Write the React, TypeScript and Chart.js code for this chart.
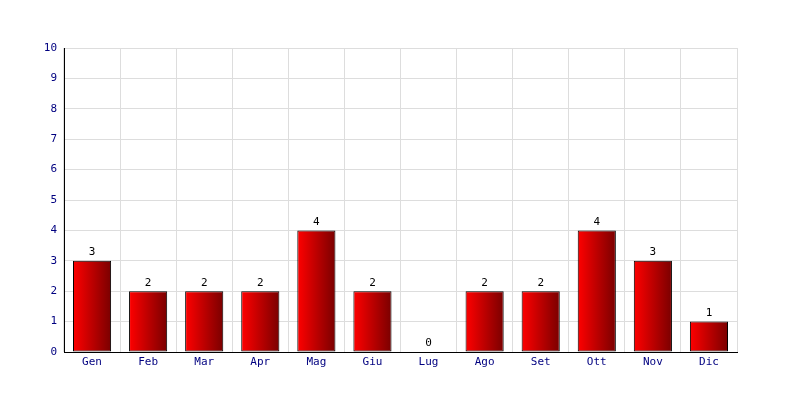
import React, { useEffect, useRef } from "react";
import { Chart, registerables } from "chart.js";

Chart.register(...registerables);

const categories = ["Gen", "Feb", "Mar", "Apr", "Mag", "Giu", "Lug", "Ago", "Set", "Ott", "Nov", "Dic"];
const values = [3, 2, 2, 2, 4, 2, 0, 2, 2, 4, 3, 1];
const yTicks = [0, 1, 2, 3, 4, 5, 6, 7, 8, 9, 10];

const FONT = "'DejaVu Sans Mono', monospace";
const BAR_PCT = 0.68;

const labelPlugin = {
  id: "valueLabels",
  afterDatasetsDraw(chart: any) {
    const ctx = chart.ctx;
    ctx.save();
    ctx.font = `11px ${FONT}`;
    ctx.fillStyle = "#000000";
    ctx.textAlign = "center";
    ctx.textBaseline = "bottom";
    const meta = chart.getDatasetMeta(0);
    meta.data.forEach((bar: any, i: number) => {
      ctx.fillText(String(values[i]), bar.x, bar.y - 3);
    });
    ctx.restore();
  },
};

function barGradient(c: any) {
  const chart = c.chart;
  const area = chart.chartArea;
  const xs = chart.scales && chart.scales.x;
  if (!area || !xs) return "#ff0000";
  const cx = xs.getPixelForValue(c.dataIndex);
  const w = ((area.right - area.left) / categories.length) * BAR_PCT;
  const g = chart.ctx.createLinearGradient(cx - w / 2, 0, cx + w / 2, 0);
  g.addColorStop(0, "#ff0000");
  g.addColorStop(1, "#7a0000");
  return g;
}

export default function App() {
  const ref = useRef<HTMLCanvasElement>(null);
  useEffect(() => {
    if (!ref.current) return;
    const chart = new Chart(ref.current, {
      type: "bar",
      data: {
        labels: categories,
        datasets: [
          {
            data: values,
            backgroundColor: barGradient,
            borderColor: "#000000",
            borderWidth: 1,
            borderSkipped: false,
            categoryPercentage: 1,
            barPercentage: BAR_PCT,
          },
        ],
      },
      options: {
        animation: false,
        responsive: false,
        devicePixelRatio: 1,
        layout: { padding: { left: 0, top: 48, right: 63, bottom: 0 } },
        plugins: { legend: { display: false }, tooltip: { enabled: false } },
        scales: {
          x: {
            grid: { color: "#dddddd", drawTicks: false, offset: true },
            border: { color: "#000000", width: 1 },
            ticks: { color: "#000080", font: { family: FONT, size: 11 }, padding: 4, maxRotation: 0 },
            afterFit: (s: any) => { s.height = 48; },
          },
          y: {
            min: 0,
            max: 10,
            afterBuildTicks: (s: any) => { s.ticks = yTicks.map((v) => ({ value: v })); },
            grid: { color: "#dddddd", drawTicks: false },
            border: { color: "#000000", width: 1 },
            ticks: { color: "#000080", font: { family: FONT, size: 11 }, padding: 7 },
            afterFit: (s: any) => { s.width = 64; },
          },
        },
      },
      plugins: [labelPlugin],
    });
    return () => chart.destroy();
  }, []);
  return (
    <div style={{ position: "absolute", left: 0, top: 0, width: 800, height: 400, background: "#fff" }}>
      <canvas ref={ref} width={800} height={400} style={{ width: 800, height: 400 }} />
    </div>
  );
}
